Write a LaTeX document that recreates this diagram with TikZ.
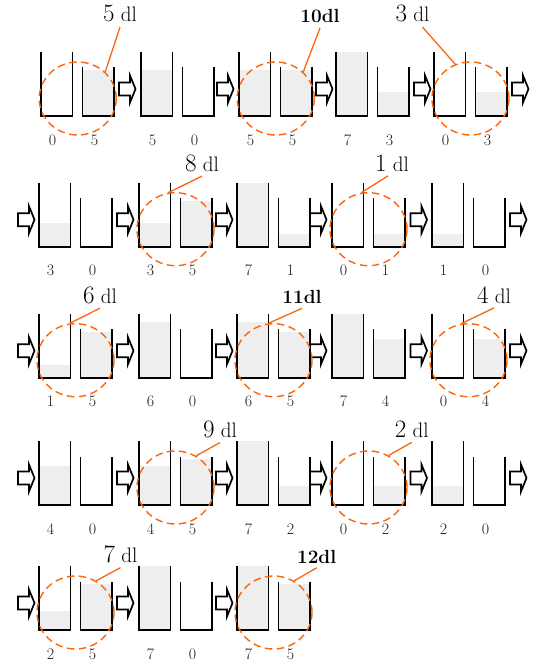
\documentclass[tikz,border=0pt]{standalone}
\usepackage{fontspec}
\usepackage{tikz}
\usetikzlibrary{shapes.geometric}
\definecolor{ringorange}{RGB}{250,102,12}
\definecolor{water}{RGB}{238,238,238}
\definecolor{numgray}{RGB}{30,30,30}
\tikzset{
  jugwall/.style={line width=1.6pt, line join=miter},
  amount/.style={font=\fontsize{16}{16}\selectfont, text=numgray, anchor=base, inner sep=0pt},
  ring/.style={ellipse, draw=ringorange, line width=1.4pt, dash pattern=on 7.5pt off 4.5pt,
               minimum width=77pt, minimum height=73pt, inner sep=0pt},
  callout/.style={font=\fontsize{21}{21}\selectfont, anchor=base, inner xsep=1pt, inner ysep=4.5pt},
  leader/.style={draw=ringorange, line width=1.3pt},
  pour/.style={draw=black, fill=white, line width=1.7pt, line join=miter},
}
\newcommand{\bigdigit}[1]{{\fontsize{25}{25}\selectfont #1}}
% one state: name, x of the 7 dl jug, bottom, contents of the two jugs
\newcommand{\jugpair}[5]{%
  \pgfmathsetmacro\hbig{{0,12.7,19,24,39,46,56,64}[#4]}%
  \pgfmathsetmacro\hsmall{{0,12.7,19,24,39,46,56,64}[#5]}%
  \fill[water] (#2,#3) rectangle ++(31.5,-\hbig);
  \fill[water] (#2+41.5,#3) rectangle ++(31.5,-\hsmall);
  \draw[jugwall] (#2,#3-64) -- (#2,#3) -- (#2+31.5,#3) -- (#2+31.5,#3-64);
  \draw[jugwall] (#2+41.5,#3-48.5) -- (#2+41.5,#3) -- (#2+73,#3) -- (#2+73,#3-48.5);
  \node[amount] (#1big) at (#2+11.5,#3+29) {#4};
  \node[amount] (#1small) at (#2+53.5,#3+29) {#5};
}
\newcommand{\pourarrow}[2]{%
  \draw[pour] (#1,#2-6.5) -- ++(11,0) -- ++(0,-7) -- ++(5.5,13.5) -- ++(-5.5,13.5)
    -- ++(0,-7) -- ++(-11,0) -- cycle;
}

\begin{document}
\begin{tikzpicture}[x=1pt, y=-1pt]
  \useasboundingbox (0,0) rectangle (536,666);
  % row 1
  \jugpair{sa}{41}{116}{0}{5}
  \pourarrow{119}{89}
  \jugpair{sb}{141}{116}{5}{0}
  \pourarrow{217}{89}
  \jugpair{sc}{239}{116}{5}{5}
  \pourarrow{316}{89}
  \jugpair{sd}{336}{116}{7}{3}
  \pourarrow{414}{89}
  \jugpair{se}{434}{116}{0}{3}
  \pourarrow{512}{89}
  % row 2
  \pourarrow{18}{219.7}
  \jugpair{sf}{39}{246.7}{3}{0}
  \pourarrow{117}{219.7}
  \jugpair{sg}{139}{246.7}{3}{5}
  \pourarrow{216}{219.7}
  \jugpair{sh}{237}{246.7}{7}{1}
  \pourarrow{310}{219.7}
  \jugpair{si}{332}{246.7}{0}{1}
  \pourarrow{410.5}{219.7}
  \jugpair{sj}{432}{246.7}{1}{0}
  \pourarrow{510}{219.7}
  % row 3
  \pourarrow{18}{350.7}
  \jugpair{sk}{39}{377.7}{1}{5}
  \pourarrow{117}{350.7}
  \jugpair{sl}{139}{377.7}{6}{0}
  \pourarrow{216}{350.7}
  \jugpair{sm}{237}{377.7}{6}{5}
  \pourarrow{310}{350.7}
  \jugpair{sn}{332}{377.7}{7}{4}
  \pourarrow{410.5}{350.7}
  \jugpair{so}{432}{377.7}{0}{4}
  \pourarrow{510}{350.7}
  % row 4
  \pourarrow{18}{478}
  \jugpair{sp}{39}{505}{4}{0}
  \pourarrow{117}{478}
  \jugpair{sq}{139}{505}{4}{5}
  \pourarrow{216}{478}
  \jugpair{sr}{237}{505}{7}{2}
  \pourarrow{310}{478}
  \jugpair{ss}{332}{505}{0}{2}
  \pourarrow{410.5}{478}
  \jugpair{st}{432}{505}{2}{0}
  \pourarrow{510}{478}
  % row 5
  \pourarrow{18}{603}
  \jugpair{su}{39}{630}{2}{5}
  \pourarrow{117}{603}
  \jugpair{sv}{139}{630}{7}{0}
  \pourarrow{216}{603}
  \jugpair{sw}{237}{630}{7}{5}

  % measured amounts
  \node[ring] (ring5) at (77.75,98.5) {};
  \node[ring] (ring10) at (275.75,98.5) {};
  \node[ring] (ring3) at (470.5,98.5) {};
  \node[ring] (ring8) at (175.5,229.2) {};
  \node[ring] (ring1) at (368.5,229.2) {};
  \node[ring] (ring6) at (75.5,360.2) {};
  \node[ring] (ring11) at (273.5,360.2) {};
  \node[ring] (ring4) at (468.5,360.2) {};
  \node[ring] (ring9) at (175.5,487.5) {};
  \node[ring] (ring2) at (368.5,487.5) {};
  \node[ring] (ring7) at (75.5,612.5) {};
  \node[ring] (ring12) at (273.5,612.5) {};

  \node[callout] (lbl5) at (120,22) {\bigdigit{5} dl};
  \node[callout] (lbl10) at (320,23) {\fontsize{19}{19}\selectfont\textbf{10dl}};
  \node[callout] (lbl3) at (412.5,22) {\bigdigit{3} dl};
  \node[callout] (lbl8) at (202,171) {\bigdigit{8} dl};
  \node[callout] (lbl1) at (392,171) {\bigdigit{1} dl};
  \node[callout] (lbl6) at (100,303) {\bigdigit{6} dl};
  \node[callout] (lbl11) at (302,303.5) {\fontsize{19}{19}\selectfont\textbf{11dl}};
  \node[callout] (lbl4) at (494,303) {\bigdigit{4} dl};
  \node[callout] (lbl9) at (220,437.5) {\bigdigit{9} dl};
  \node[callout] (lbl2) at (411.7,437.5) {\bigdigit{2} dl};
  \node[callout] (lbl7) at (120.5,562.5) {\bigdigit{7} dl};
  \node[callout] (lbl12) at (316.7,563) {\fontsize{19}{19}\selectfont\textbf{12dl}};

  \draw[leader] (lbl5.south) -- (ring5.44);
  \draw[leader] (lbl10.south) -- (ring10.44);
  \draw[leader] ([xshift=10pt]lbl3.south) -- (ring3.114);
  \draw[leader] (lbl8.south) -- (ring8.101);
  \draw[leader] ([xshift=-4pt]lbl1.south) -- (ring1.101);
  \draw[leader] (lbl6.south) -- (ring6.99);
  \draw[leader] (lbl11.south) -- (ring11.98);
  \draw[leader] (lbl4.south) -- (ring4.101);
  \draw[leader] (lbl9.south) -- (ring9.57);
  \draw[leader] (lbl2.south) -- (ring2.58);
  \draw[leader] (lbl7.south) -- (ring7.57);
  \draw[leader] (lbl12.south) -- (ring12.57);
\end{tikzpicture}
\end{document}
